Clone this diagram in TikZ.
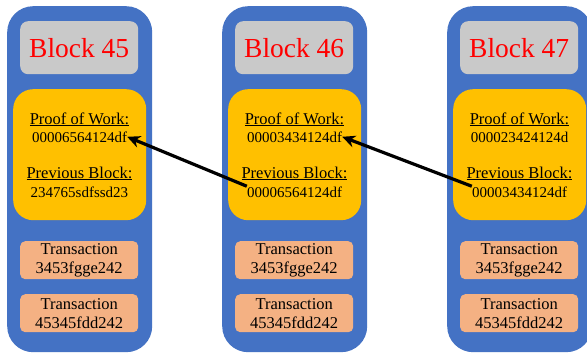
\documentclass[tikz,border=0pt]{standalone}
\usepackage{fontspec}
\setmainfont{Liberation Serif}
\usetikzlibrary{arrows.meta}
\definecolor{bblue}{HTML}{4472C4}
\definecolor{bgray}{HTML}{C9C9C9}
\definecolor{byellow}{HTML}{FFC000}
\definecolor{bsalmon}{HTML}{F4B183}
\definecolor{bred}{HTML}{FF0000}
\tikzset{
  outerbox/.style={fill=bblue, rounded corners=26pt, inner sep=0pt, anchor=north west, minimum width=145pt, minimum height=346pt},
  graybox/.style={fill=bgray, rounded corners=8pt, inner sep=0pt, anchor=north west, minimum width=118pt, minimum height=53pt, text=bred, font=\rmfamily\fontsize{27.5}{27.5}\selectfont},
  corebox/.style={fill=byellow, rounded corners=20pt, inner sep=0pt, anchor=north west, minimum width=133pt, minimum height=131pt},
  txbox/.style={fill=bsalmon, rounded corners=5pt, inner sep=0pt, anchor=north west, minimum width=118pt, minimum height=38pt, align=center, font=\rmfamily\fontsize{16.5}{19}\selectfont},
  headtxt/.style={inner sep=0pt, anchor=base, font=\rmfamily\fontsize{16.5}{16.5}\selectfont},
  valtxt/.style={inner sep=0pt, anchor=base, font=\rmfamily\fontsize{15}{15}\selectfont},
  link/.style={line width=3.2pt, -{Stealth[length=13pt,width=12pt]}}
}
\newcommand\chainblock[5]{%
  \begin{scope}[shift={(#2,0)}]
    \node[outerbox] (blk#1) at (0,6) {};
    \node[graybox] (ttl#1) at (13,21) {#3};
    \node[corebox] (core#1) at (6,89) {};
    \node[headtxt] (ph#1) at (72.5,124) {\underline{Proof of Work:}};
    \node[valtxt] (pw#1) at (72.5,142) {#4};
    \node[headtxt] (vh#1) at (72.5,178) {\underline{Previous Block:}};
    \node[valtxt] (pv#1) at (72.5,197) {#5};
    \node[txbox] (txa#1) at (13,241) {Transaction\\3453fgge242};
    \node[txbox] (txb#1) at (13,294) {Transaction\\45345fdd242};
  \end{scope}%
}
\begin{document}
\begin{tikzpicture}[x=1pt,y=-1pt]
\useasboundingbox (0,0) rectangle (587,356);
\clip (0,0) rectangle (587,356);
\fill[white] (0,0) rectangle (587,356);
\chainblock{1}{7}{Block 45}{00006564124df}{234765sdfssd23}
\chainblock{2}{222}{Block 46}{00003434124df}{00006564124df}
\chainblock{3}{447}{Block 47}{000023424124d}{00003434124df}
\draw[link] (pv2.north west) -- (pw1.east);
\draw[link] (pv3.north west) -- (pw2.east);
\end{tikzpicture}
\end{document}
